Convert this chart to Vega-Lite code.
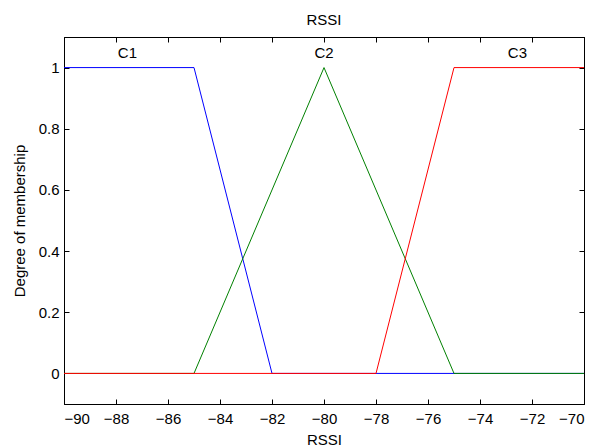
{
  "$schema": "https://vega.github.io/schema/vega-lite/v6.json",
  "autosize": "none",
  "width": 520,
  "height": 367,
  "padding": {"left": 64, "top": 37, "right": 15, "bottom": 43},
  "background": "white",
  "config": {
    "font": "Liberation Sans",
    "view": {"stroke": "black", "strokeWidth": 1},
    "axis": {"grid": false, "domainColor": "black", "tickColor": "black", "labelColor": "black", "titleColor": "black", "labelFont": "Liberation Sans", "titleFont": "Liberation Sans", "labelFontSize": 15, "titleFontSize": 15, "titleFontWeight": "normal", "tickSize": -5}
  },
  "title": {"text": "RSSI", "fontSize": 15, "fontWeight": "normal", "font": "Liberation Sans", "color": "black", "offset": 9},
  "datasets": {
    "mf": [
      {"x": -90, "y": 1, "c": "C1", "o": 1},
      {"x": -85, "y": 1, "c": "C1", "o": 2},
      {"x": -82, "y": 0, "c": "C1", "o": 3},
      {"x": -70, "y": 0, "c": "C1", "o": 4},
      {"x": -90, "y": 0, "c": "C2", "o": 1},
      {"x": -85, "y": 0, "c": "C2", "o": 2},
      {"x": -80, "y": 1, "c": "C2", "o": 3},
      {"x": -75, "y": 0, "c": "C2", "o": 4},
      {"x": -70, "y": 0, "c": "C2", "o": 5},
      {"x": -90, "y": 0, "c": "C3", "o": 1},
      {"x": -78, "y": 0, "c": "C3", "o": 2},
      {"x": -75, "y": 1, "c": "C3", "o": 3},
      {"x": -70, "y": 1, "c": "C3", "o": 4}
    ],
    "labels": [
      {"x": -87.56, "y": 1.047, "t": "C1"},
      {"x": -80, "y": 1.047, "t": "C2"},
      {"x": -72.56, "y": 1.047, "t": "C3"}
    ]
  },
  "layer": [
    {
      "data": {"name": "mf"},
      "mark": {"type": "line", "strokeWidth": 1, "clip": true},
      "encoding": {
        "x": {"field": "x", "type": "quantitative", "scale": {"domain": [-90, -70], "nice": false, "zero": false}, "axis": {"title": "RSSI", "values": [-90, -88, -86, -84, -82, -80, -78, -76, -74, -72, -70], "labelPadding": 12, "titlePadding": 6}},
        "y": {"field": "y", "type": "quantitative", "scale": {"domain": [-0.1, 1.1], "nice": false, "zero": false}, "axis": {"title": "Degree of membership", "format": "~g", "values": [0, 0.2, 0.4, 0.6, 0.8, 1], "labelPadding": 10, "titlePadding": 11}},
        "color": {"field": "c", "type": "nominal", "scale": {"domain": ["C1", "C2", "C3"], "range": ["#0000ff", "#008000", "#ff0000"]}, "legend": null},
        "order": {"field": "o", "type": "quantitative"}
      }
    },
    {
      "data": {"name": "labels"},
      "mark": {"type": "text", "fontSize": 15, "font": "Liberation Sans", "color": "black", "align": "center", "baseline": "middle"},
      "encoding": {
        "x": {"field": "x", "type": "quantitative", "axis": {"orient": "top", "title": null, "labels": false, "values": [-90, -88, -86, -84, -82, -80, -78, -76, -74, -72, -70]}},
        "y": {"field": "y", "type": "quantitative", "axis": {"orient": "right", "title": null, "labels": false, "values": [0, 0.2, 0.4, 0.6, 0.8, 1]}},
        "text": {"field": "t", "type": "nominal"}
      }
    }
  ],
  "resolve": {"axis": {"x": "independent", "y": "independent"}}
}
